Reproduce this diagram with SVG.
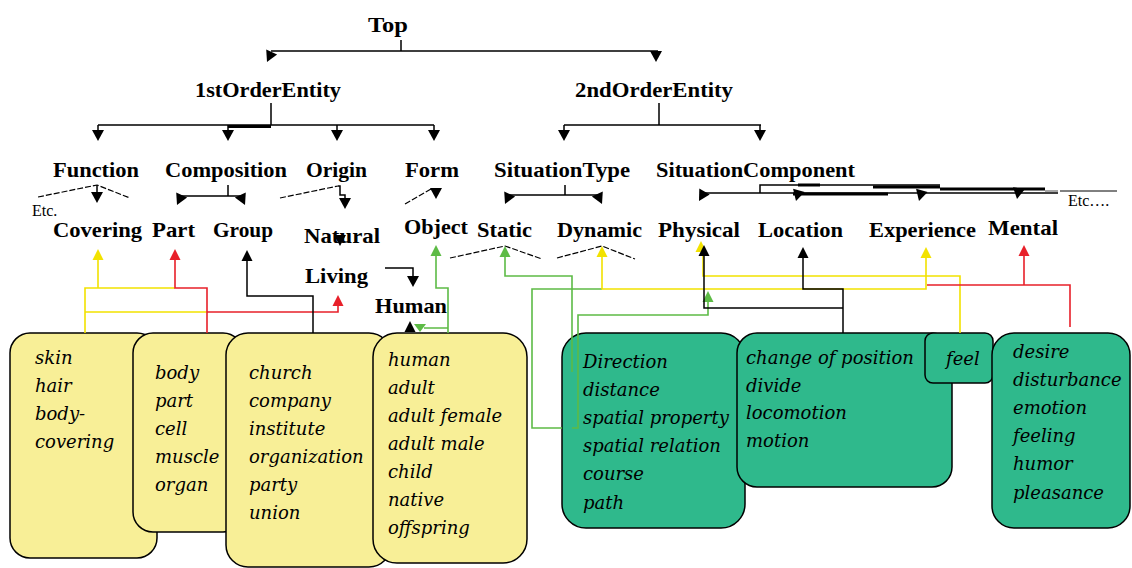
<svg xmlns="http://www.w3.org/2000/svg" xmlns:xlink="http://www.w3.org/1999/xlink" width="1132" height="568" viewBox="0 0 1132 568">
<style>
.lbl{font-family:"Liberation Serif",serif;font-weight:bold;font-size:21px;fill:#000}
.etc{font-family:"Liberation Serif",serif;font-size:16px;fill:#000}
.it{font-family:"DejaVu Serif",serif;font-style:italic;font-size:18px;fill:#000}
.yb{fill:#f8ef97;stroke:#000;stroke-width:1.5}
.gb{fill:#2fb98c;stroke:#000;stroke-width:1.5}
.k{fill:none;stroke:#000;stroke-width:1.5}
.kd{fill:none;stroke:#000;stroke-width:1.2;stroke-dasharray:6 2}
.kt{fill:none;stroke:#000;stroke-width:3}
.y{fill:none;stroke:#f2e200;stroke-width:1.6}
.r{fill:none;stroke:#e8202a;stroke-width:1.6}
.g{fill:none;stroke:#5dbb46;stroke-width:1.6}
.fk{fill:#000}.fy{fill:#f2e200}.fr{fill:#e8202a}.fg{fill:#5dbb46}
</style>
<defs>
<path id="ad" d="M0,0 L-6,-11 L6,-11 Z"/>
<path id="au" d="M0,0 L-5.5,11 L5.5,11 Z"/>
</defs>
<rect width="1132" height="568" fill="#fff"/>

<g id="boxes">
<g id="box-skin"><rect class="yb" x="10" y="333" width="147" height="225" rx="20"/>
<text class="it" x="35" y="364">skin</text><text class="it" x="35" y="392">hair</text><text class="it" x="35" y="420">body-</text><text class="it" x="35" y="448">covering</text></g>
<g id="box-body"><rect class="yb" x="133" y="333" width="110" height="199" rx="20"/>
<text class="it" x="155" y="379">body</text><text class="it" x="155" y="407">part</text><text class="it" x="155" y="435">cell</text><text class="it" x="155" y="463">muscle</text><text class="it" x="155" y="491">organ</text></g>
<g id="box-church"><rect class="yb" x="226" y="333" width="165" height="234" rx="22"/>
<text class="it" x="249" y="379">church</text><text class="it" x="249" y="407">company</text><text class="it" x="249" y="435">institute</text><text class="it" x="249" y="463">organization</text><text class="it" x="249" y="491">party</text><text class="it" x="249" y="519">union</text></g>
<g id="box-human"><rect class="yb" x="373" y="333" width="154" height="230" rx="24"/>
<text class="it" x="388" y="366">human</text><text class="it" x="388" y="394">adult</text><text class="it" x="388" y="422">adult female</text><text class="it" x="388" y="450">adult male</text><text class="it" x="388" y="478">child</text><text class="it" x="388" y="506">native</text><text class="it" x="388" y="534">offspring</text></g>
<g id="box-direction"><rect class="gb" x="562" y="333" width="183" height="195" rx="24"/>
<text class="it" x="583" y="368">Direction</text><text class="it" x="583" y="396">distance</text><text class="it" x="583" y="424">spatial property</text><text class="it" x="583" y="452">spatial relation</text><text class="it" x="583" y="480">course</text><text class="it" x="583" y="509">path</text></g>
<g id="box-change"><rect class="gb" x="737" y="333" width="215" height="154" rx="20"/>
<text class="it" x="746" y="364">change of position</text><text class="it" x="746" y="392">divide</text><text class="it" x="746" y="419">locomotion</text><text class="it" x="746" y="447">motion</text></g>
<g id="box-feel"><rect class="gb" x="925" y="333" width="68" height="50" rx="8"/>
<text class="it" x="946" y="365">feel</text></g>
<g id="box-desire"><rect class="gb" x="992" y="333" width="138" height="195" rx="22"/>
<text class="it" x="1013" y="358">desire</text><text class="it" x="1013" y="386">disturbance</text><text class="it" x="1013" y="414">emotion</text><text class="it" x="1013" y="442">feeling</text><text class="it" x="1013" y="470">humor</text><text class="it" x="1013" y="499">pleasance</text></g>
</g>

<g id="connectors">
<path class="k" d="M401,40 V51 M271,51 H658"/>
<use href="#ad" class="fk" transform="translate(267,62) rotate(25)"/>
<use href="#ad" class="fk" x="656" y="62"/>
<path class="k" d="M271,103 V125 M98,125 H434 M98,125 V131 M228,125 V131 M337,125 V131 M434,125 V131"/>
<path class="kt" d="M228,126.5 H271"/>
<use href="#ad" class="fk" x="98" y="141"/><use href="#ad" class="fk" x="228" y="141"/><use href="#ad" class="fk" x="337" y="141"/><use href="#ad" class="fk" x="434" y="141"/>
<path class="k" d="M659,103 V125 M564,125 H761 M564,125 V131 M760,125 V131"/>
<use href="#ad" class="fk" x="564" y="141"/><use href="#ad" class="fk" x="760" y="141"/>

<path class="kd" d="M38,197 L97,185 L130,198"/>
<path class="k" d="M97,185 V193"/>
<use href="#ad" class="fk" x="97" y="203"/>
<path class="k" d="M228,185 V196 M179,196 H243"/>
<use href="#ad" class="fk" transform="translate(177,205) rotate(25)"/>
<use href="#ad" class="fk" transform="translate(245,205) rotate(-25)"/>
<path class="kd" d="M280,198 L338,186"/>
<path class="k" d="M338,186 H340 V195 H345 V199"/>
<use href="#ad" class="fk" x="345" y="209"/>
<use href="#ad" class="fk" x="340" y="246"/>
<path class="k" d="M385,268 H413 V277"/>
<use href="#ad" class="fk" x="413" y="287"/>
<path class="kd" d="M405,204 L431,189"/>
<use href="#ad" class="fk" x="436" y="199"/>
<path class="k" d="M565,185 V195 M507,195 H600"/>
<use href="#ad" class="fk" transform="translate(505,204) rotate(25)"/>
<use href="#ad" class="fk" transform="translate(602,204) rotate(-25)"/>
<path class="k" d="M702,193 H1058 M760,193 V185 H940"/>
<path class="kt" d="M798,185 H820 M873,187 H940 M940,189 H1045 M793,194 H888"/>
<path d="M1045,191 H1058" fill="none" stroke="#888" stroke-width="1.5"/>
<path d="M1060,191 H1117" fill="none" stroke="#000" stroke-width="1"/>
<use href="#ad" class="fk" transform="translate(699,201) rotate(30)"/>
<use href="#ad" class="fk" transform="translate(796,201) rotate(15)"/>
<use href="#ad" class="fk" transform="translate(919,201) rotate(15)"/>
<use href="#ad" class="fk" transform="translate(1017,199) rotate(10)"/>
<path class="kd" d="M450,258 L505,246 L542,259 M557,258 L602,246 L635,259"/>

<path class="y" d="M85,333 V288 H175 M98,288 V258 M85,312 H207"/>
<use href="#au" class="fy" x="98" y="249"/>
<path class="r" d="M175,258 V288 H207 V333 M207,312 H338 V305"/>
<use href="#au" class="fr" x="175" y="249"/>
<use href="#au" class="fr" x="338" y="295"/>
<path class="k" d="M313,333 V296 H247 V259"/>
<use href="#au" class="fk" x="247" y="250"/>
<use href="#au" class="fk" x="410" y="321"/>
<path class="g" d="M448,333 V288 H436 V254 M448,328 H424"/>
<use href="#au" class="fg" x="436" y="245"/>
<path d="M414,324 L426,324 L420,332 Z" class="fg"/>
<path class="g" d="M572,372 V276 H505 V255"/>
<use href="#au" class="fg" x="505" y="246"/>
<path class="g" d="M562,428 H532 V289 H602 M572,428 H578 V315 H708 V300"/>
<use href="#au" class="fg" x="708" y="291"/>
<path class="y" d="M602,255 V289 H926 V256"/>
<use href="#au" class="fy" x="602" y="246"/>
<use href="#au" class="fy" x="926" y="247"/>
<path class="y" d="M960,333 V276 H703 V250"/>
<use href="#au" class="fy" x="701" y="241"/>
<path class="k" d="M843,333 V289 H803 V256 M843,308 H704 V254"/>
<use href="#au" class="fk" x="803" y="247"/>
<use href="#au" class="fk" x="704" y="245"/>
<path class="r" d="M1070,327 V285 H927 M1024,285 V254"/>
<use href="#au" class="fr" x="1024" y="245"/>
</g>

<g id="labels">
<g id="n-top"><text class="lbl" x="368" y="32" textLength="40" lengthAdjust="spacingAndGlyphs">Top</text></g>
<g id="n-1st"><text class="lbl" x="195" y="97" textLength="146" lengthAdjust="spacingAndGlyphs">1stOrderEntity</text></g>
<g id="n-2nd"><text class="lbl" x="575" y="97" textLength="158" lengthAdjust="spacingAndGlyphs">2ndOrderEntity</text></g>
<g id="n-function"><text class="lbl" x="53" y="177" textLength="86" lengthAdjust="spacingAndGlyphs">Function</text></g>
<g id="n-composition"><text class="lbl" x="165" y="177" textLength="122" lengthAdjust="spacingAndGlyphs">Composition</text></g>
<g id="n-origin"><text class="lbl" x="306" y="177" textLength="61" lengthAdjust="spacingAndGlyphs">Origin</text></g>
<g id="n-form"><text class="lbl" x="405" y="177" textLength="54" lengthAdjust="spacingAndGlyphs">Form</text></g>
<g id="n-sittype"><text class="lbl" x="494" y="177" textLength="136" lengthAdjust="spacingAndGlyphs">SituationType</text></g>
<g id="n-sitcomp"><text class="lbl" x="656" y="177" textLength="199" lengthAdjust="spacingAndGlyphs">SituationComponent</text></g>
<g id="n-covering"><text class="lbl" x="53" y="237" textLength="89" lengthAdjust="spacingAndGlyphs">Covering</text></g>
<g id="n-part"><text class="lbl" x="152" y="237" textLength="43" lengthAdjust="spacingAndGlyphs">Part</text></g>
<g id="n-group"><text class="lbl" x="213" y="237" textLength="60" lengthAdjust="spacingAndGlyphs">Group</text></g>
<g id="n-natural"><text class="lbl" x="304" y="243" textLength="76" lengthAdjust="spacingAndGlyphs">Natural</text></g>
<g id="n-living"><text class="lbl" x="305" y="283" textLength="63" lengthAdjust="spacingAndGlyphs">Living</text></g>
<g id="n-human"><text class="lbl" x="375" y="313" textLength="72" lengthAdjust="spacingAndGlyphs">Human</text></g>
<g id="n-object"><text class="lbl" x="404" y="234" textLength="64" lengthAdjust="spacingAndGlyphs">Object</text></g>
<g id="n-static"><text class="lbl" x="477" y="237" textLength="55" lengthAdjust="spacingAndGlyphs">Static</text></g>
<g id="n-dynamic"><text class="lbl" x="557" y="237" textLength="85" lengthAdjust="spacingAndGlyphs">Dynamic</text></g>
<g id="n-physical"><text class="lbl" x="658" y="237" textLength="82" lengthAdjust="spacingAndGlyphs">Physical</text></g>
<g id="n-location"><text class="lbl" x="758" y="237" textLength="85" lengthAdjust="spacingAndGlyphs">Location</text></g>
<g id="n-experience"><text class="lbl" x="869" y="237" textLength="107" lengthAdjust="spacingAndGlyphs">Experience</text></g>
<g id="n-mental"><text class="lbl" x="988" y="235" textLength="70" lengthAdjust="spacingAndGlyphs">Mental</text></g>
<text class="etc" x="32" y="216">Etc.</text>
<text class="etc" x="1068" y="206">Etc….</text>
</g>
</svg>
